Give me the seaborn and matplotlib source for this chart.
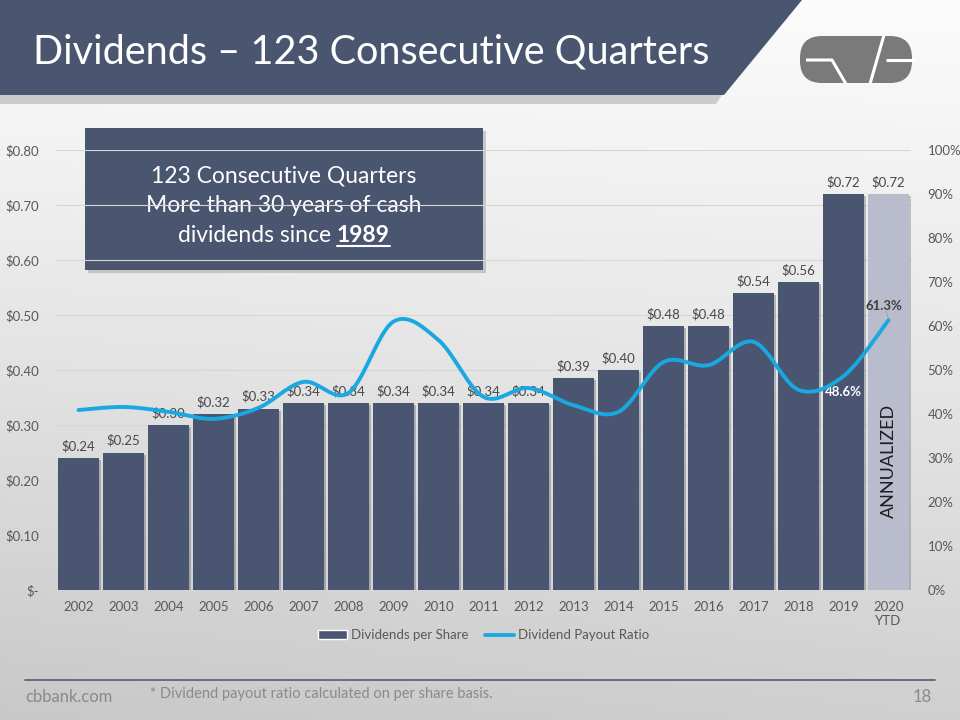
import numpy as np
import pandas as pd
import matplotlib
matplotlib.use("Agg")
import matplotlib.pyplot as plt
import seaborn as sns
from matplotlib.patches import Polygon, Rectangle, FancyBboxPatch
from matplotlib.lines import Line2D
import matplotlib.patheffects as pe

# ---------------- data ----------------
years = [str(y) for y in range(2002, 2020)] + ["2020\nYTD"]
dividends = [0.24, 0.25, 0.30, 0.32, 0.33, 0.34, 0.34, 0.34, 0.34, 0.34, 0.34,
             0.385, 0.40, 0.48, 0.48, 0.54, 0.56, 0.72, 0.72]
dividend_labels = ["$0.24", "$0.25", "$0.30", "$0.32", "$0.33", "$0.34", "$0.34",
                   "$0.34", "$0.34", "$0.34", "$0.34", "$0.39", "$0.40", "$0.48",
                   "$0.48", "$0.54", "$0.56", "$0.72", "$0.72"]
payout_ratio = [40.9, 41.6, 40.5, 38.9, 41.4, 47.3, 44.8, 61.0, 56.8, 43.9, 45.9,
                42.0, 40.5, 51.8, 51.1, 56.4, 45.5, 48.6, 61.3]
left_ticks = [0.0, 0.1, 0.2, 0.3, 0.4, 0.5, 0.6, 0.7, 0.8]
left_tick_labels = ["$-", "$0.10", "$0.20", "$0.30", "$0.40", "$0.50", "$0.60", "$0.70", "$0.80"]
right_ticks = [0, 10, 20, 30, 40, 50, 60, 70, 80, 90, 100]
right_tick_labels = [f"{v}%" for v in right_ticks]

BAR = "#4a5572"
BAR_LIGHT = "#b8bccc"
LINE = "#19a8e0"
BANNER = "#4a5570"
GRAY = "#595959"

sns.set_theme(style="white")
plt.rcParams["font.family"] = ["Lato", "DejaVu Sans"]

fig = plt.figure(figsize=(9.6, 7.2), dpi=100)

# ---------------- background ----------------
bg = fig.add_axes([0, 0, 1, 1], zorder=-10)
bg.set_xlim(0, 960)
bg.set_ylim(720, 0)
bg.axis("off")
yy = np.linspace(0, 1, 256)[:, None]
xx = np.linspace(0, 1, 256)[None, :]
grad = 0.985 - 0.17 * yy ** 1.1 - 0.03 * (1 - xx) * yy
bg.imshow(np.dstack([grad, grad, grad]), extent=[0, 960, 720, 0], aspect="auto", zorder=0)

# banner with shadow
bg.add_patch(Polygon([(0, 92), (724, 92), (716, 104), (0, 104)], closed=True,
                     facecolor="#9a9a9a", edgecolor="none", alpha=0.45, zorder=1))
bg.add_patch(Polygon([(0, 0), (802, 0), (724, 95), (0, 95)], closed=True,
                     facecolor=BANNER, edgecolor="none", zorder=2))
bg.text(33, 52, "Dividends – 123 Consecutive Quarters", color="white",
        fontsize=28.5, va="center", ha="left", zorder=3)

# logo (simplified)
bg.add_patch(FancyBboxPatch((800, 36), 112, 47, boxstyle="round,pad=0,rounding_size=22",
                            facecolor="#7a7a7a", edgecolor="none", zorder=3))
for seg in [[(806, 60), (832, 60), (846, 84)], [(870, 84), (884, 35)], [(886, 59.5), (914, 59.5)]]:
    xs, ys = zip(*seg)
    bg.plot(xs, ys, color="white", lw=2.2, zorder=4, solid_capstyle="butt")

# text box
bg.add_patch(Rectangle((88, 131), 398, 142, facecolor="#a0a0a0", alpha=0.5, edgecolor="none", zorder=1))
bg.add_patch(Rectangle((85, 128), 398, 142, facecolor=BANNER, edgecolor="none", zorder=2))
bg.text(284, 176, "123 Consecutive Quarters", color="white", fontsize=16.5, ha="center", va="center", zorder=3)
bg.text(284, 206, "More than 30 years of cash", color="white", fontsize=16.5, ha="center", va="center", zorder=3)
renderer = fig.canvas.get_renderer()
t1 = bg.text(0, 236, "dividends since", color="white", fontsize=16.5, ha="left", va="center", zorder=3)
t2 = bg.text(0, 236, "1989", color="white", fontsize=16.5, fontweight="bold", ha="left", va="center", zorder=3)
w1 = t1.get_window_extent(renderer).width
w2 = t2.get_window_extent(renderer).width
gap = 5
start = 284 - (w1 + gap + w2) / 2
t1.set_x(start)
t2.set_x(start + w1 + gap)
bg.plot([start + w1 + gap, start + w1 + gap + w2], [246, 246], color="white", lw=1.5, zorder=3)

# footer
bg.plot([25, 935], [680, 680], color="#5a6580", lw=1.3, zorder=2)
bg.text(25, 697, "cbbank.com", color="#8a8a8a", fontsize=12, ha="left", va="center")
bg.text(150, 694, "* Dividend payout ratio calculated on per share basis.", color="#8a8a8a",
        fontsize=10.5, ha="left", va="center")
bg.text(932, 697, "18", color="#8a8a8a", fontsize=12, ha="right", va="center")

# ---------------- main chart ----------------
ax = fig.add_axes([56 / 960, 130 / 720, 855 / 960, 440 / 720])
ax.patch.set_alpha(0)
df = pd.DataFrame({"year": years, "dividend": dividends})
colors = [BAR] * (len(years) - 1) + [BAR_LIGHT]
sns.barplot(data=df, x="year", y="dividend", hue="year", palette=colors, legend=False,
            width=0.9, ax=ax, saturation=1, edgecolor="none", zorder=2)
for p in ax.patches:
    p.set_path_effects([pe.SimplePatchShadow(offset=(1.5, -1.5), alpha=0.25), pe.Normal()])
ax.set_ylim(0, 0.8)
ax.set_xlim(-0.5, len(years) - 0.5)
ax.set_yticks(left_ticks)
ax.set_yticklabels(left_tick_labels)
ax.yaxis.grid(True, color="#d6d6d6", lw=0.8, zorder=0)
ax.set_axisbelow(True)
for s in ax.spines.values():
    s.set_visible(False)
ax.set_xlabel("")
ax.set_ylabel("")
ax.tick_params(axis="both", length=0, labelsize=9.5, labelcolor=GRAY)
ax.tick_params(axis="y", pad=12)
ax.tick_params(axis="x", pad=8)
for i, (v, lab) in enumerate(zip(dividends, dividend_labels)):
    ax.annotate(lab, (i, v), xytext=(0, 4), textcoords="offset points",
                ha="center", va="bottom", fontsize=9.5, color="#484848", zorder=3)

# annualized label
ax.text(len(years) - 1, 0.235, "ANNUALIZED", rotation=90, ha="center", va="center",
        fontsize=13, color="#1f1f1f", zorder=4)

# payout line (smoothed through the data points)
ax2 = ax.twinx()
ax2.set_ylim(0, 100)
ax2.set_yticks(right_ticks)
ax2.set_yticklabels(right_tick_labels)
for s in ax2.spines.values():
    s.set_visible(False)
ax2.tick_params(axis="y", length=0, labelsize=9.5, labelcolor=GRAY, pad=12)
ax2.grid(False)

pts = np.column_stack([np.arange(len(payout_ratio)), payout_ratio]).astype(float)
ext = np.vstack([pts[0], pts, pts[-1]])
curve = []
for i in range(1, len(ext) - 2):
    p0, p1, p2, p3 = ext[i - 1], ext[i], ext[i + 1], ext[i + 2]
    c1 = p1 + (p2 - p0) / 6
    c2 = p2 - (p3 - p1) / 6
    t = np.linspace(0, 1, 30)[:, None]
    seg = (1 - t) ** 3 * p1 + 3 * (1 - t) ** 2 * t * c1 + 3 * (1 - t) * t ** 2 * c2 + t ** 3 * p2
    curve.append(seg)
curve = np.vstack(curve)
sns.lineplot(x=curve[:, 0], y=curve[:, 1], sort=False, color=LINE, lw=2.8, ax=ax2, zorder=5)
ax2.set_xlim(-0.5, len(years) - 0.5)

n = len(years)
ax2.text(n - 1.1, payout_ratio[-1] + 3.2, f"{payout_ratio[-1]:.1f}%", ha="center", va="center",
         fontsize=9.5, fontweight="bold", color="#404040")
ax2.plot([n - 1.05, n - 1], [payout_ratio[-1] + 2.0, payout_ratio[-1] + 0.3], color="#a0a0a0", lw=0.7)
ax2.text(n - 2, payout_ratio[-2] - 3.6, f"{payout_ratio[-2]:.1f}%", ha="center", va="center",
         fontsize=9.5, fontweight="bold", color="white")

# legend
handles = [Rectangle((0, 0), 1, 1, facecolor=BAR), Line2D([0], [0], color=LINE, lw=2.8)]
ax.legend(handles, ["Dividends per Share", "Dividend Payout Ratio"], loc="upper center",
          bbox_to_anchor=(0.5, -0.062), ncol=2, frameon=False, fontsize=9.5,
          handlelength=2.2, handletextpad=0.3, columnspacing=1.2, labelcolor=GRAY)

fig.savefig("out.png", dpi=100)
